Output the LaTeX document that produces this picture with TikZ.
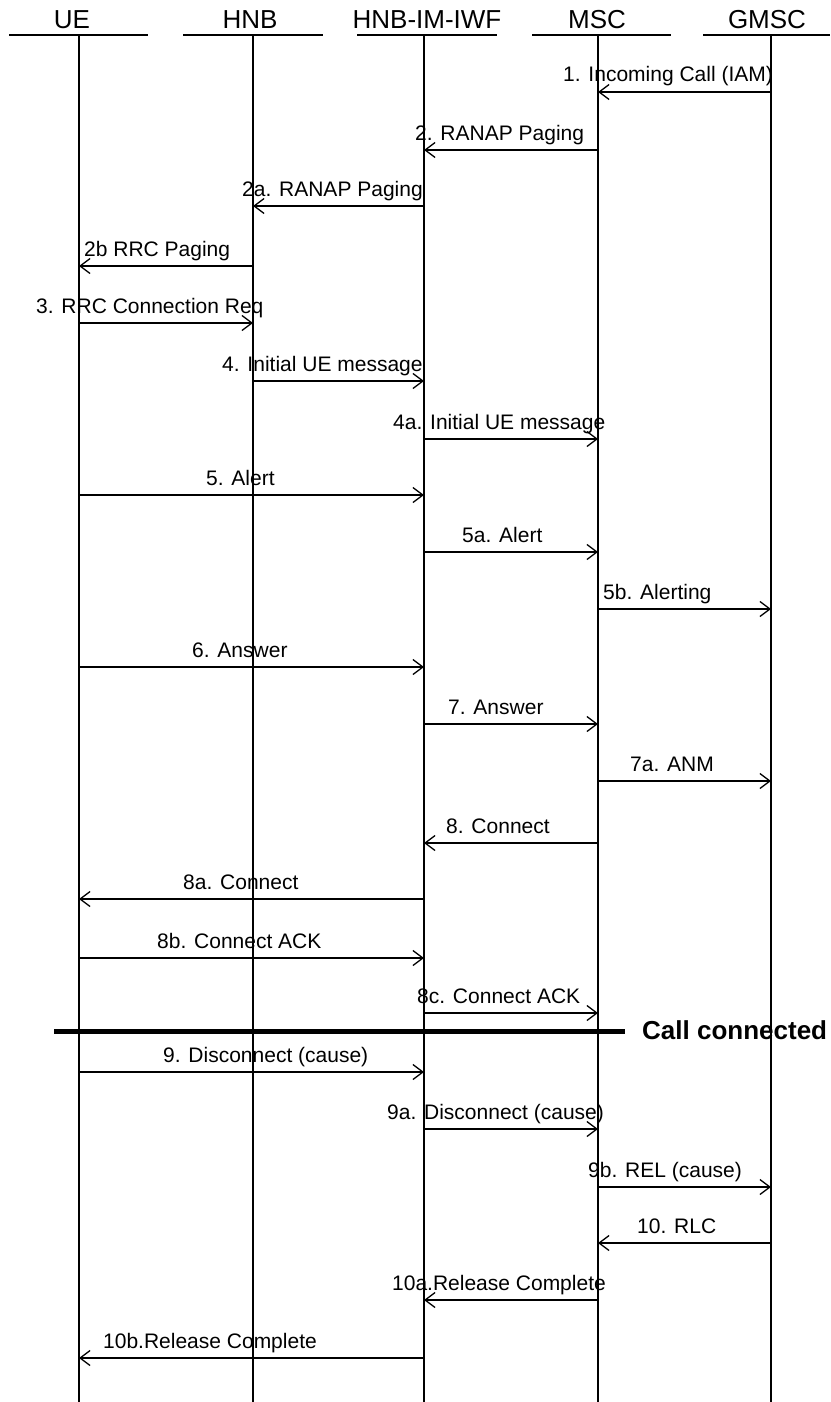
\documentclass[tikz,border=0pt]{standalone}
\usepackage{fontspec}
\setmainfont{Liberation Sans}
\usetikzlibrary{arrows.meta}
\begin{document}
\begin{tikzpicture}[x=1pt,y=-1pt,
  hdr/.style={anchor=base,inner sep=0pt,font=\fontsize{26}{29}\selectfont},
  hline/.style={line width=1.5pt},
  life/.style={line width=1.6pt},
  msg/.style={line width=1.3pt,-{Straight Barb[length=10pt,width=15pt,line width=1.3pt]}},
  lbl/.style={anchor=base west,inner sep=0pt,font=\fontsize{21}{24}\selectfont},
  sep/.style={line width=5pt},
  sepl/.style={anchor=base west,inner sep=0pt,font=\fontsize{26}{30}\selectfont\bfseries}]
\useasboundingbox (0,0) rectangle (830,1402);
% headers
\node[hdr] (hUE) at (72,29) {UE};
\node[hdr] (hHNB) at (250,29) {HNB};
\node[hdr] (hIWF) at (427,29) {HNB-IM-IWF};
\node[hdr] (hMSC) at (597,29) {MSC};
\node[hdr] (hGMSC) at (767,29) {GMSC};
\draw[hline] (9,35) -- (148,35);
\draw[hline] (183,35) -- (323,35);
\draw[hline] (357,35) -- (497,35);
\draw[hline] (532,35) -- (671,35);
\draw[hline] (703,35) -- (830,35);
% lifelines
\coordinate (ue) at (79,35);
\coordinate (hnb) at (253,35);
\coordinate (iwf) at (424,35);
\coordinate (msc) at (598,35);
\coordinate (gmsc) at (771,35);
\foreach \c in {ue,hnb,iwf,msc,gmsc}{
  \coordinate (\c B) at (\c |- 0,1402);
  \draw[life] (\c) -- (\c B);
}
% messages
\foreach \y/\a/\b/\lx/\t in {
  92/gmsc/msc/563/{1. Incoming Call (IAM)},
  150/msc/iwf/415/{2. RANAP Paging},
  206/iwf/hnb/242/{2a. RANAP Paging},
  266/hnb/ue/84/{2b RRC Paging},
  323/ue/hnb/36/{3. RRC Connection Req},
  381/hnb/iwf/222/{4. Initial UE message},
  439/iwf/msc/393/{4a. Initial UE message},
  495/ue/iwf/206/{5. Alert},
  552/iwf/msc/462/{5a. Alert},
  609/msc/gmsc/603/{5b. Alerting},
  667/ue/iwf/192/{6. Answer},
  724/iwf/msc/448/{7. Answer},
  781/msc/gmsc/630/{7a. ANM},
  843/msc/iwf/446/{8. Connect},
  899/iwf/ue/183/{8a. Connect},
  958/ue/iwf/157/{8b. Connect ACK},
  1013/iwf/msc/417/{8c. Connect ACK},
  1072/ue/iwf/163/{9. Disconnect (cause)},
  1129/iwf/msc/387/{9a. Disconnect (cause)},
  1187/msc/gmsc/588/{9b. REL (cause)},
  1243/gmsc/msc/637/{10. RLC},
  1300/msc/iwf/392/{10a.Release Complete},
  1358/iwf/ue/103/{10b.Release Complete}}{
  \coordinate (s\y) at (\a |- 0,\y);
  \coordinate (e\y) at (\b |- 0,\y);
  \draw[msg] (s\y) -- (e\y);
  \node[lbl] (l\y) at (\lx,\y-10) {\t};
}
% call connected separator
\coordinate (sepA) at (54,1031);
\coordinate (sepB) at (625,1031);
\draw[sep] (sepA) -- (sepB);
\node[sepl] (cc) at (642,1039) {Call connected};
\end{tikzpicture}
\end{document}
